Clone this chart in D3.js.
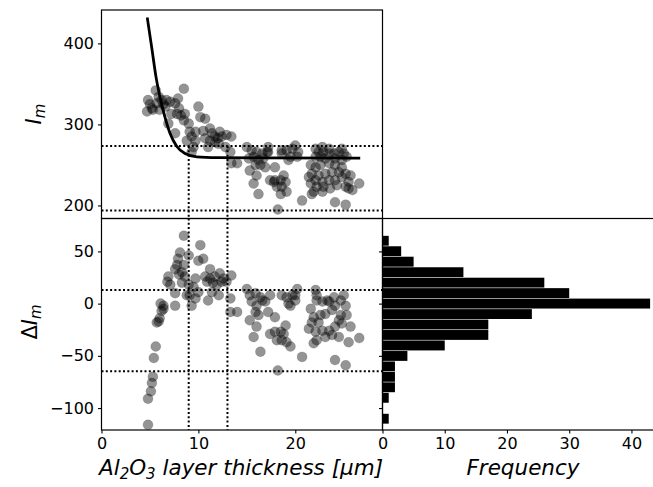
<!DOCTYPE html>
<html>
<head>
<meta charset="utf-8">
<script src="https://cdn.jsdelivr.net/npm/d3@7"></script>
<style>
	body { margin: 0; background: #fff; }
	text { font-family: "DejaVu Sans", sans-serif; fill: #000; }
</style>
</head>
<body>
<svg id="chart" width="653" height="487"></svg>
<script>
/* global d3 */

// top panel: layer thickness [um] vs I_m
const topThickness = [
	5.6, 4.8, 4.7, 5.2, 5.7, 6.2, 6.7, 6.0, 6.6, 7.1, 7.6, 7.9, 8.5, 7.8, 8.2, 8.6, 7.2, 5.3, 5.9, 6.9,
	7.6, 8.5, 9.0, 9.1, 9.3, 9.7, 8.8, 9.5, 9.3, 10.0, 10.2, 10.7, 11.2, 11.4, 11.7, 12.2, 12.4, 12.9, 13.4, 11.2,
	11.7, 10.7, 11.0, 12.1, 12.8, 13.3, 13.4, 14.0, 9.7, 6.4, 5.0, 8.0, 10.5, 12.0,
	15.0, 15.5, 16.0, 16.6, 17.2, 15.2, 15.7, 16.2, 16.7, 17.1, 15.9, 16.4, 15.3, 16.0, 15.7, 16.9, 17.9, 17.4, 17.9, 18.5,
	18.8, 19.0, 18.1, 18.6, 19.1, 18.5, 16.2, 18.6, 19.1, 19.7, 20.0, 20.2, 19.5, 19.3, 18.6, 20.3, 20.7, 18.2, 17.8, 17.2,
	22.1, 22.4, 22.9, 23.5, 24.0, 24.5, 25.0, 22.1, 22.6, 23.1, 24.1, 24.8, 25.3, 21.6, 22.1, 22.6, 23.5, 24.1, 24.8, 21.7,
	22.4, 23.1, 23.8, 24.5, 25.2, 25.7, 21.4, 22.1, 22.8, 23.5, 24.1, 24.8, 25.5, 21.6, 22.2, 22.9, 23.6, 24.3, 25.2, 21.9,
	22.8, 25.5, 25.9, 21.7, 26.6, 24.1, 25.2, 23.5, 22.8, 24.8
];
const topIm = [
	342, 330, 316, 320, 326, 330, 330, 318, 322, 328, 326, 332, 344, 313, 311, 313, 313, 318, 334, 301,
	289, 305, 301, 291, 285, 280, 280, 272, 266, 322, 309, 307, 295, 289, 285, 291, 285, 287, 285, 280,
	278, 283, 272, 276, 272, 266, 252, 252, 291, 325, 325, 320, 292, 283,
	272, 268, 266, 264, 272, 258, 260, 256, 258, 266, 250, 250, 243, 237, 227, 247, 247, 231, 231, 231,
	237, 229, 223, 223, 217, 214, 214, 268, 268, 270, 274, 260, 260, 256, 264, 266, 206, 195, 229, 266,
	270, 266, 266, 264, 264, 266, 264, 260, 260, 258, 258, 256, 260, 250, 247, 250, 252, 250, 247, 239,
	237, 239, 241, 241, 239, 237, 235, 231, 229, 231, 231, 235, 229, 227, 223, 223, 221, 225, 223, 217,
	217, 221, 219, 214, 227, 204, 201, 270, 272, 270
];

// fitted decay curve
const fitThickness = [4.72, 5.17, 5.62, 6.03, 6.55, 7.07, 7.76, 8.62, 9.83, 12, 16, 26.7];
const fitIm = [432, 396, 359, 334, 309, 289, 273, 264, 260, 259, 258.6, 258.5];

// bottom panel: layer thickness [um] vs delta I_m
const botThickness = [
	4.8, 4.8, 5.1, 5.2, 5.3, 5.4, 5.6, 5.7, 5.9, 6.0, 6.2, 6.4, 6.1, 6.4, 7.6,
	6.9, 6.8, 7.1, 7.6, 7.8, 8.1, 7.9, 7.6, 8.5, 8.3, 8.6, 9.0, 9.0, 9.1, 9.5, 8.8, 9.3, 9.7, 10.0, 10.2,
	10.0, 10.5, 11.2, 10.7, 11.2, 11.7, 12.2, 12.4, 11.9, 11.4, 11.0, 12.1, 12.9, 13.4, 13.3, 13.3, 14.0, 10.9, 9.7, 8.5,
	8.3, 8.0, 11.5, 12.6,
	15.0, 15.3, 15.9, 16.4, 16.9, 17.4, 15.5, 16.0, 16.6, 15.9, 16.2, 15.3, 16.0, 17.2, 17.9, 15.7, 16.4, 17.4, 17.9, 18.5,
	18.8, 19.0, 18.1, 18.6, 19.1, 19.5, 18.2, 18.6, 19.1, 19.7, 20.2, 20.0, 19.3, 19.5, 20.7, 20.0,
	22.1, 22.2, 22.8, 23.3, 24.0, 24.7, 25.0, 25.2, 24.1, 21.6, 21.9, 22.6, 23.1, 23.8, 24.7, 25.3, 21.4, 22.1, 22.8, 23.5,
	24.1, 24.8, 25.7, 21.7, 22.4, 24.5, 23.1, 23.8, 24.5, 21.9, 22.2, 25.5, 26.6, 24.1, 25.2, 23.5, 22.2
];
const botDeltaIm = [
	-116, -91, -84, -76, -70, -52, -41, -18, -17, -14, -7, -5, 0, -2, -2,
	26, 21, 18, 10, 37, 49, 43, 33, 65, 30, 26, 46, 18, 8, 16, 8, -2, 5, 11, 56,
	41, 43, 33, 26, 24, 26, 29, 21, 18, 11, 3, 8, 21, 27, 5, -8, -8, 21, 24, 37,
	20, 28, 20, 24,
	14, 8, 10, 6, 2, 8, 2, -2, 3, -8, -11, -16, -22, -8, -13, -32, -46, -29, -27, -27,
	-29, -21, -35, -35, -37, -41, -64, 8, 6, 8, 14, 3, 0, -2, -51, 8,
	13, 3, 2, 3, 6, 3, 8, -2, -2, -5, -13, -11, -10, -6, -11, -11, -24, -27, -26, -26,
	-22, -19, -22, -18, -18, -16, -32, -30, -32, -38, -35, -37, -33, -54, -59, 2, 8
];

// histogram of delta I_m (bin edges low -> high, counts per bin)
const histEdges = [-115.2, -105.2, -95.2, -85.1, -75.1, -65.1, -55.1, -45.1, -35.0, -25.0,
	-15.0, -5.0, 5.1, 15.1, 25.1, 35.1, 45.2, 55.2, 65.2];
const histCounts = [1, 0, 1, 2, 2, 2, 4, 10, 17, 17, 24, 43, 30, 26, 13, 5, 3, 1];

// reference lines
const imLevels = [273.3, 193.8];
const deltaLevels = [13, -64.7];
const thicknessMarks = [9.0, 13.0];

const topTicks = [200, 300, 400];
const botTicks = [-100, -50, 0, 50];
const xTicks = [0, 10, 20];
const freqTicks = [0, 10, 20, 30, 40];

const L = 101.5, W = 281, T = 10, H1 = 208.5, H2 = 211.5;
const M = T + H1;

const x = d3.scaleLinear().domain([0, 29]).range([L, L + W]);
const yTop = d3.scaleLinear().domain([183.9, 441.2]).range([M, T]);
const yBot = d3.scaleLinear().domain([-121, 81.5]).range([M + H2, M]);
const xHist = d3.scaleLinear().domain([0, 45.15]).range([L + W, L + 2 * W]);

const svg = d3.select('#chart');

const clip = (id, x0, y0, w, h) => {
	svg.append('clipPath').attr('id', id)
		.append('rect').attr('x', x0).attr('y', y0).attr('width', w).attr('height', h);
};
clip('cTop', L, T, W, H1);
clip('cBot', L, M, W, H2);

const dotted = { stroke: '#000', 'stroke-width': 2, 'stroke-dasharray': '2,2.3' };
const applyAttrs = (sel, attrs) => { for (const k in attrs) { sel.attr(k, attrs[k]); } return sel; };

const dots = (g, xs, ys, yScale) => g.selectAll('circle')
	.data(xs.map((t, i) => [t, ys[i]]))
	.enter().append('circle')
		.attr('cx', d => x(d[0]))
		.attr('cy', d => yScale(d[1]))
		.attr('r', 5)
		.attr('fill', '#000').attr('fill-opacity', 0.42)
		.attr('stroke', '#000').attr('stroke-opacity', 0.15).attr('stroke-width', 0.8);

// top panel
const gTop = svg.append('g').attr('clip-path', 'url(#cTop)');
dots(gTop, topThickness, topIm, yTop);

for (const v of imLevels) {
	applyAttrs(gTop.append('line'), dotted)
		.attr('x1', L).attr('x2', L + W).attr('y1', yTop(v)).attr('y2', yTop(v));
}
for (const t of thicknessMarks) {
	applyAttrs(gTop.append('line'), dotted)
		.attr('x1', x(t)).attr('x2', x(t)).attr('y1', yTop(imLevels[0])).attr('y2', M);
}

gTop.append('path')
	.datum(fitThickness.map((t, i) => [t, fitIm[i]]))
	.attr('fill', 'none').attr('stroke', '#000').attr('stroke-width', 2.8)
	.attr('d', d3.line().x(d => x(d[0])).y(d => yTop(d[1])).curve(d3.curveMonotoneX));

// bottom panel
const gBot = svg.append('g').attr('clip-path', 'url(#cBot)');
dots(gBot, botThickness, botDeltaIm, yBot);

for (const v of deltaLevels) {
	applyAttrs(gBot.append('line'), dotted)
		.attr('x1', L).attr('x2', L + W).attr('y1', yBot(v)).attr('y2', yBot(v));
}
for (const t of thicknessMarks) {
	applyAttrs(gBot.append('line'), dotted)
		.attr('x1', x(t)).attr('x2', x(t)).attr('y1', M).attr('y2', M + H2);
}

// histogram
svg.append('g').selectAll('rect')
	.data(histCounts.map((c, i) => ({ c, lo: histEdges[i], hi: histEdges[i + 1] })))
	.enter().append('rect')
		.attr('x', xHist(0))
		.attr('y', d => yBot(d.hi) + 0.3)
		.attr('width', d => xHist(d.c) - xHist(0))
		.attr('height', d => yBot(d.lo) - yBot(d.hi) - 0.6)
		.attr('fill', '#000');

// frames
const frame = (x0, y0, w, h) => svg.append('rect')
	.attr('x', x0).attr('y', y0).attr('width', w).attr('height', h)
	.attr('fill', 'none').attr('stroke', '#000').attr('stroke-width', 1.2);
frame(L, T, W, H1);
frame(L, M, W, H2);
frame(L + W, M, W, H2);

// axes
const styleAxis = g => {
	g.select('.domain').remove();
	g.selectAll('.tick line').attr('stroke', '#000').attr('stroke-width', 1.1);
	g.selectAll('.tick text').style('font-size', '16px').attr('fill', '#000');
};

svg.append('g').attr('transform', `translate(${L},0)`)
	.call(d3.axisLeft(yTop).tickValues(topTicks).tickSize(3.5).tickPadding(4))
	.call(styleAxis);
svg.append('g').attr('transform', `translate(${L},0)`)
	.call(d3.axisLeft(yBot).tickValues(botTicks).tickSize(3.5).tickPadding(4))
	.call(styleAxis);
svg.append('g').attr('transform', `translate(${L + W},0)`)
	.call(d3.axisLeft(yBot).tickValues(botTicks).tickSize(3.5).tickFormat(''))
	.call(styleAxis);
svg.append('g').attr('transform', `translate(0,${M + H2})`)
	.call(d3.axisBottom(x).tickValues(xTicks).tickSize(3.5).tickPadding(4))
	.call(styleAxis);
svg.append('g').attr('transform', `translate(0,${M + H2})`)
	.call(d3.axisBottom(xHist).tickValues(freqTicks).tickSize(3.5).tickPadding(4))
	.call(styleAxis);

// axis labels
const xl = svg.append('text')
	.attr('x', L + W / 2 - 1).attr('y', 475)
	.attr('text-anchor', 'middle')
	.style('font-size', '21.5px').style('font-style', 'italic');
xl.append('tspan').text('Al');
xl.append('tspan').attr('dy', 4).style('font-size', '15px').text('2');
xl.append('tspan').attr('dy', -4).text('O');
xl.append('tspan').attr('dy', 4).style('font-size', '15px').text('3');
xl.append('tspan').attr('dy', -4).text(' layer thickness [\u03bcm]');

svg.append('text')
	.attr('x', L + W + W / 2).attr('y', 475)
	.attr('text-anchor', 'middle')
	.style('font-size', '21.5px').style('font-style', 'italic')
	.text('Frequency');

const yLabel = (cx, cy, prefix) => {
	const t = svg.append('text')
		.attr('transform', `translate(${cx},${cy}) rotate(-90)`)
		.attr('text-anchor', 'middle')
		.style('font-size', '21px');
	if (prefix) { t.append('tspan').text(prefix); }
	t.append('tspan').style('font-style', 'italic').text('I');
	t.append('tspan').attr('dy', 4).style('font-size', '15px').style('font-style', 'italic').text('m');
};
yLabel(41, 114, '');
yLabel(37, 322, '\u0394');
</script>
</body>
</html>
